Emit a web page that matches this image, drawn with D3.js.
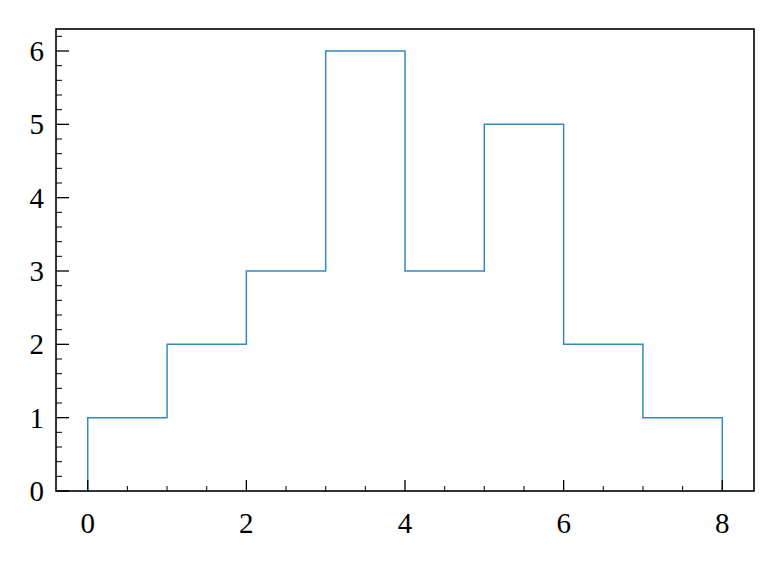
<!DOCTYPE html>
<html><head><meta charset="utf-8">
<script src="https://cdn.jsdelivr.net/npm/d3@7"></script>
<style>body{margin:0;background:#fff}svg{display:block}</style>
</head><body><svg id="c" width="783" height="569"></svg>
<script>
const binEdges = [0,1,2,3,4,5,6,7,8];
const counts = [1,2,3,6,3,5,2,1];
const xMajor = [0,2,4,6,8];
const yMajor = [0,1,2,3,4,5,6];

const svg = d3.select("#c");
const L=56, R=754, T=29, B=491;
const x = d3.scaleLinear().domain([-0.4,8.4]).range([L,R]);
const y = d3.scaleLinear().domain([0,6.3]).range([B,T]);

// step path
const pts = [[binEdges[0],0]];
counts.forEach((c,i)=>{pts.push([binEdges[i],c]);pts.push([binEdges[i+1],c]);});
pts.push([binEdges[binEdges.length-1],0]);
svg.append("path").attr("d", d3.line().x(d=>x(d[0])).y(d=>y(d[1]))(pts))
  .attr("fill","none").attr("stroke","#348ABD").attr("stroke-width",1.5);

const font = "'Liberation Serif','DejaVu Serif',serif";
const g = svg.append("g");
const xMinor = d3.range(0,8.01,0.5).filter(v=>!xMajor.includes(v));
const yMinor = d3.range(0,6.31,0.2).map(v=>+v.toFixed(1)).filter(v=>!yMajor.includes(v) && v<=6.3);
xMinor.forEach(v=>g.append("line").attr("x1",x(v)).attr("x2",x(v)).attr("y1",B).attr("y2",B-5).attr("stroke","#000").attr("stroke-width",1));
yMinor.forEach(v=>g.append("line").attr("y1",y(v)).attr("y2",y(v)).attr("x1",L).attr("x2",L+6).attr("stroke","#000").attr("stroke-width",1));
xMajor.forEach(v=>{
  g.append("line").attr("x1",x(v)).attr("x2",x(v)).attr("y1",B).attr("y2",B-11).attr("stroke","#000").attr("stroke-width",1.3);
  g.append("text").attr("x",x(v)).attr("y",533).attr("text-anchor","middle").attr("font-family",font).attr("font-size",29).text(v);
});
yMajor.forEach(v=>{
  g.append("line").attr("y1",y(v)).attr("y2",y(v)).attr("x1",L).attr("x2",L+13).attr("stroke","#000").attr("stroke-width",1.3);
  g.append("text").attr("x",44).attr("y",y(v)+10).attr("text-anchor","end").attr("font-family",font).attr("font-size",29).text(v);
});
svg.append("rect").attr("x",L).attr("y",T).attr("width",R-L).attr("height",B-T).attr("fill","none").attr("stroke","#000").attr("stroke-width",1.6);
</script></body></html>
